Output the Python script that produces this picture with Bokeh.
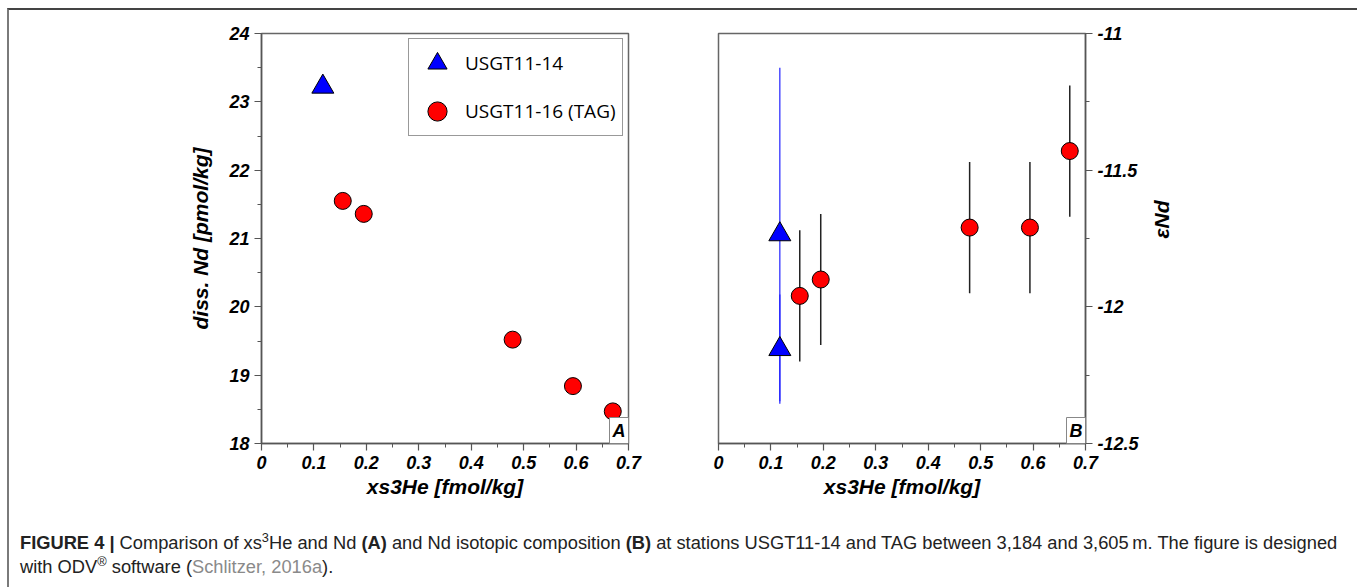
import math
from bokeh.plotting import figure
from bokeh.models import FixedTicker, Legend, LegendItem, Label, Div, Range1d
from bokeh.layouts import column, row
from bokeh.embed import file_html
from bokeh.resources import INLINE

# ---------------- data ----------------
# Panel A: xs3He vs dissolved Nd
usgt14_xs3he = [0.117]
usgt14_nd = [23.22]
tag_xs3he = [0.155, 0.195, 0.479, 0.594, 0.670]
tag_nd = [21.55, 21.36, 19.52, 18.84, 18.47]

# Panel B: xs3He vs eps Nd (with 2-sigma error)
usgt14_xs3he_b = [0.117, 0.117]
usgt14_eps = [-11.735, -12.155]
usgt14_eps_err = [0.61, 0.20]
tag_eps = [-11.96, -11.90, -11.71, -11.71, -11.43]
tag_eps_err = [0.24, 0.24, 0.24, 0.24, 0.24]

x_ticks = [0.0, 0.1, 0.2, 0.3, 0.4, 0.5, 0.6, 0.7]
x_tick_labels = ["0", "0.1", "0.2", "0.3", "0.4", "0.5", "0.6", "0.7"]
x_minor = [0.05, 0.15, 0.25, 0.35, 0.45, 0.55, 0.65]
nd_ticks = [18, 19, 20, 21, 22, 23, 24]
nd_tick_labels = ["18", "19", "20", "21", "22", "23", "24"]
nd_minor = [18.5, 19.5, 20.5, 21.5, 22.5, 23.5]
eps_ticks = [-12.5, -12.0, -11.5, -11.0]
eps_tick_labels = ["-12.5", "-12", "-11.5", "-11"]
eps_minor = [-12.25, -11.75, -11.25]

series_names = ["USGT11-14", "USGT11-16 (TAG)"]

FONT = "Liberation Sans"
AX = "#555555"


def style_axis(ax, ticks, labels, minor):
    ax.ticker = FixedTicker(ticks=ticks, minor_ticks=minor)
    ax.major_label_overrides = {t: l for t, l in zip(ticks, labels)}
    ax.axis_line_color = AX
    ax.axis_line_width = 1.5
    ax.major_tick_line_color = AX
    ax.minor_tick_line_color = AX
    ax.major_tick_line_width = 1.2
    ax.minor_tick_line_width = 1.0
    ax.major_tick_in = 0
    ax.major_tick_out = 7
    ax.minor_tick_in = 0
    ax.minor_tick_out = 4
    ax.major_label_text_font = FONT
    ax.major_label_text_font_style = "bold italic"
    ax.major_label_text_font_size = "18px"
    ax.major_label_text_color = "black"
    ax.major_label_standoff = 5
    ax.axis_label_text_font = FONT
    ax.axis_label_text_font_style = "bold italic"
    ax.axis_label_text_font_size = "21px"
    ax.axis_label_text_color = "black"


def base_fig(width, left, right, y_range, yloc):
    p = figure(width=width, height=500, x_range=Range1d(0, 0.7), y_range=y_range,
               output_backend="svg", toolbar_location=None, y_axis_location=yloc,
               min_border_left=left, min_border_right=right,
               min_border_top=23, min_border_bottom=67)
    p.grid.visible = False
    p.outline_line_color = "#666666"
    p.outline_line_width = 1.5
    p.background_fill_color = "white"
    p.border_fill_color = "white"
    return p


# ---------------- panel A ----------------
p1 = base_fig(680, 252, 61, Range1d(18, 24), "left")
style_axis(p1.xaxis[0], x_ticks, x_tick_labels, x_minor)
style_axis(p1.yaxis[0], nd_ticks, nd_tick_labels, nd_minor)
p1.xaxis.axis_label = "xs3He [fmol/kg]"
p1.xaxis.axis_label_standoff = 3
p1.yaxis.axis_label = "diss. Nd [pmol/kg]"
p1.yaxis.axis_label_standoff = 14

r_tri = p1.scatter(usgt14_xs3he, usgt14_nd, marker="triangle", size=22,
                   fill_color="#0000ff", line_color="black", line_width=1)
r_circ = p1.scatter(tag_xs3he, tag_nd, marker="circle", size=17,
                    fill_color="#ff0000", line_color="black", line_width=1)

legend = Legend(items=[LegendItem(label=series_names[0], renderers=[r_tri]),
                       LegendItem(label=series_names[1], renderers=[r_circ])],
                location="top_right", margin=5, padding=0, spacing=-9,
                glyph_width=56, glyph_height=48, label_height=48, label_width=157,
                label_standoff=0, label_text_font="Open Sans", label_text_font_size="19px",
                label_text_color="black", border_line_color="#333333", border_line_width=1,
                background_fill_color="white", background_fill_alpha=1)
p1.add_layout(legend)

p1.add_layout(Label(x=0.7, y=18, x_offset=9, y_offset=2, angle=math.pi / 2,
                    text="Ocean Data View", text_font=FONT, text_font_style="italic",
                    text_font_size="10px", text_align="left", text_baseline="middle",
                    text_color="#222222"))
p1.add_layout(Label(x=0.7, y=18, text="A", text_align="right", text_baseline="bottom",
                    text_font=FONT, text_font_style="bold italic", text_font_size="18px",
                    text_color="black", padding=3, border_line_color="#888888",
                    border_line_width=1, background_fill_color="white"))

# ---------------- panel B ----------------
p2 = base_fig(665, 29, 269, Range1d(-12.5, -11), "right")
style_axis(p2.xaxis[0], x_ticks, x_tick_labels, x_minor)
style_axis(p2.yaxis[0], eps_ticks, eps_tick_labels, eps_minor)
p2.xaxis.axis_label = "xs3He [fmol/kg]"
p2.xaxis.axis_label_standoff = 3
p2.yaxis.axis_label = "εNd"
p2.yaxis.axis_label_standoff = 20
try:
    p2.yaxis[0].axis_label_orientation = math.pi / 2
except Exception:
    pass

p2.segment(x0=usgt14_xs3he_b, x1=usgt14_xs3he_b,
           y0=[v - e for v, e in zip(usgt14_eps, usgt14_eps_err)],
           y1=[v + e for v, e in zip(usgt14_eps, usgt14_eps_err)],
           line_color="#2222ff", line_width=1.2)
p2.segment(x0=tag_xs3he, x1=tag_xs3he,
           y0=[v - e for v, e in zip(tag_eps, tag_eps_err)],
           y1=[v + e for v, e in zip(tag_eps, tag_eps_err)],
           line_color="#222222", line_width=1.5)
p2.scatter(usgt14_xs3he_b, usgt14_eps, marker="triangle", size=22,
           fill_color="#0000ff", line_color="black", line_width=1)
p2.scatter(tag_xs3he, tag_eps, marker="circle", size=17,
           fill_color="#ff0000", line_color="black", line_width=1)

p2.add_layout(Label(x=0, y=-12.5, x_offset=-11, y_offset=2, angle=math.pi / 2,
                    text="Ocean Data View", text_font=FONT, text_font_style="italic",
                    text_font_size="10px", text_align="left", text_baseline="middle",
                    text_color="#222222"))
p2.add_layout(Label(x=0.7, y=-12.5, text="B", text_align="right", text_baseline="bottom",
                    text_font=FONT, text_font_style="bold italic", text_font_size="18px",
                    text_color="black", padding=3, border_line_color="#888888",
                    border_line_width=1, background_fill_color="white"))

# ---------------- caption ----------------
caption_html = (
    '<div style="font-family:\'Liberation Sans\',Arial,sans-serif;font-size:18.3px;'
    'line-height:24px;color:#222;white-space:nowrap;padding:16px 0 0 6px;">'
    '<b>FIGURE 4 |</b> Comparison of xs<sup style="font-size:70%;line-height:0;">3</sup>He and Nd '
    '<b>(A)</b> and Nd isotopic composition <b>(B)</b> at stations USGT11-14 and TAG between '
    '3,184 and 3,605&#8201;m. The figure is designed<br>'
    'with ODV<sup style="font-size:70%;line-height:0;">&reg;</sup> software '
    '(<span style="color:#8a8a8a">Schlitzer, 2016a</span>).</div>'
)
cap = Div(text=caption_html, width=1345, height=77)

root = column(row(p1, p2), cap,
              styles={"margin-left": "7px", "margin-top": "8px",
                      "border-top": "2px solid #444444", "border-left": "2px solid #7a7a7a",
                      "border-right": "2px solid #7a7a7a", "background-color": "white"})

open("out.html", "w").write(file_html(root, INLINE))
